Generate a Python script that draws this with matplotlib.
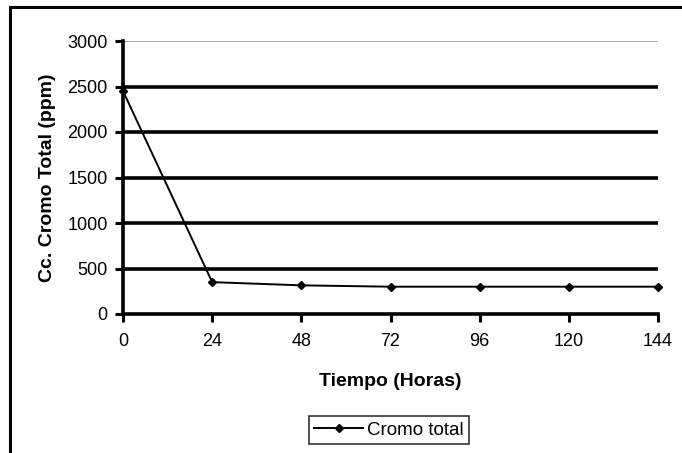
import matplotlib
matplotlib.use("Agg")
import matplotlib.pyplot as plt
from matplotlib.lines import Line2D

plt.rcParams['font.family'] = ['Liberation Sans', 'DejaVu Sans']

hours = [0, 24, 48, 72, 96, 120, 144]
cromo_total = [2450, 350, 315, 300, 300, 300, 300]
yticks = [0, 500, 1000, 1500, 2000, 2500, 3000]

fig = plt.figure(figsize=(6.82, 4.53), dpi=100)
ax = fig.add_axes([123/682, 1-314/453, (658-123)/682, (314-41)/453])

ax.set_xlim(0, 144)
ax.set_ylim(0, 3000)

# gridlines
for v in yticks[1:-1]:
    ax.axhline(v, color='black', lw=2.6, zorder=1)
ax.axhline(3000, color='#999999', lw=1.2, zorder=1)

ax.plot(hours, cromo_total, color='black', lw=1.4, marker='D', markersize=4.5,
        markerfacecolor='black', zorder=3, clip_on=False, label='Cromo total')

ax.set_xticks(hours)
ax.set_yticks(yticks)
ax.tick_params(axis='both', direction='out', length=6, width=2.2, labelsize=13,
               color='black')
ax.tick_params(axis='x', pad=8)
ax.tick_params(axis='y', pad=5)

for s in ['top', 'right']:
    ax.spines[s].set_visible(False)
for s in ['left', 'bottom']:
    ax.spines[s].set_linewidth(2.6)
    ax.spines[s].set_zorder(4)

ax.set_xlabel('Tiempo (Horas)', fontsize=14, fontweight='bold', labelpad=16)
ax.set_ylabel('Cc. Cromo Total (ppm)', fontsize=14, fontweight='bold', labelpad=8)

handle = Line2D([0], [0], color='black', lw=1.4, marker='D', markersize=4.5)
leg = fig.legend([handle], ['Cromo total'], loc='center', bbox_to_anchor=(389/682, 1-430/453),
                 frameon=True, fancybox=False, edgecolor='black', fontsize=13.5,
                 handlelength=2.6, borderpad=0.3, handletextpad=0.2, borderaxespad=0)
leg.get_frame().set_linewidth(1.2)

# outer frame (left and top)
fig.add_artist(Line2D([10/682, 10/682], [0, 1-7/453], color='black', lw=2.2, transform=fig.transFigure))
fig.add_artist(Line2D([10/682, 1], [1-7/453, 1-7/453], color='black', lw=2.2, transform=fig.transFigure))

fig.savefig('out.png', dpi=100)
